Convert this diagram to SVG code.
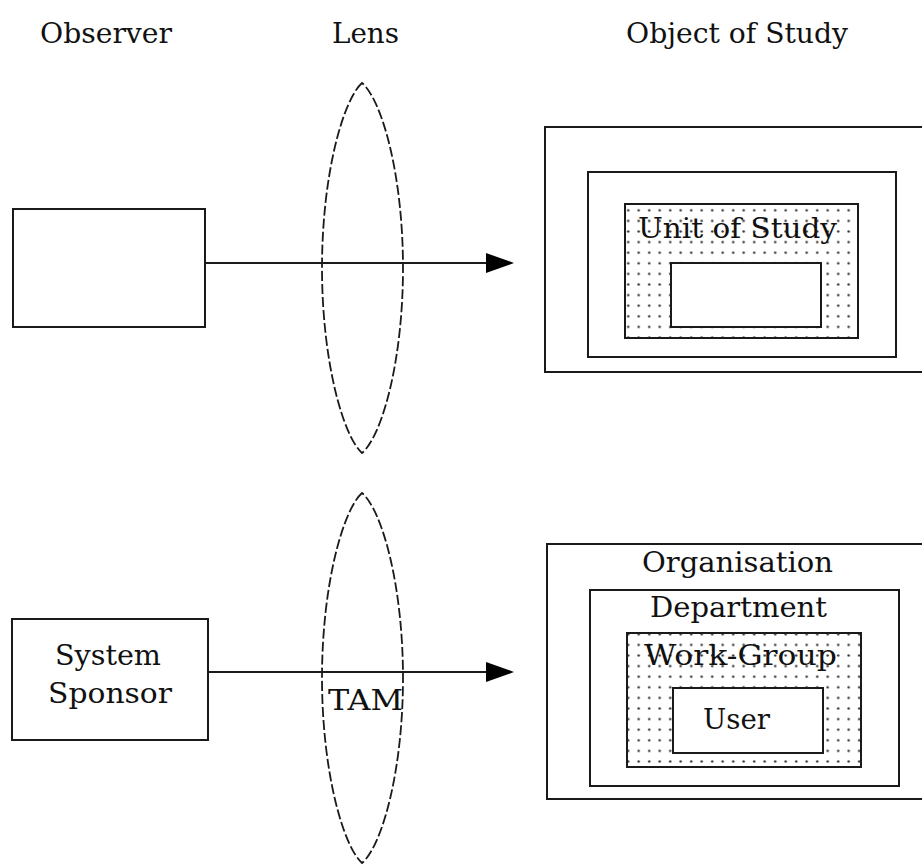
<svg xmlns="http://www.w3.org/2000/svg" width="922" height="865" viewBox="0 0 922 865">
<style>
.box{fill:#fff;stroke:#1a1a1a;stroke-width:2}
.dotbox{fill:url(#dots);stroke:#1a1a1a;stroke-width:2}
.lens{fill:none;stroke:#1a1a1a;stroke-width:1.8;stroke-dasharray:10,3}
.conn{stroke:#1a1a1a;stroke-width:2;fill:none}
.head{fill:#000}
.t{font-family:"DejaVu Serif","Liberation Serif",serif;font-size:27px;fill:#111}
.h{font-family:"DejaVu Serif","Liberation Serif",serif;font-size:28px;fill:#111}
</style>
<defs>
<pattern id="dots" patternUnits="userSpaceOnUse" x="623" y="205" width="10.5" height="10.6">
<rect width="10.5" height="10.6" fill="#fff"/>
<circle cx="5.2" cy="5.3" r="1.2" fill="#333"/>
</pattern>
</defs>

<g id="headers">
<text class="h" x="40" y="43" textLength="132" lengthAdjust="spacingAndGlyphs">Observer</text>
<text class="h" x="332" y="43" textLength="67" lengthAdjust="spacingAndGlyphs">Lens</text>
<text class="h" x="626" y="43" textLength="222" lengthAdjust="spacingAndGlyphs">Object of Study</text>
</g>

<g id="observer-top">
<rect class="box" x="13" y="209" width="192" height="118"/>
</g>

<g id="lens-top">
<path class="lens" d="M362,83 C343,100 322,175 322,268 C322,361 343,436 362,453 C382,436 403,361 403,268 C403,175 382,100 362,83 Z"/>
</g>

<g id="object-top">
<rect class="box" x="545" y="127" width="385" height="245"/>
<rect class="box" x="588" y="172" width="308" height="185"/>
<rect class="dotbox" x="625" y="204" width="233" height="134"/>
<text class="t" x="638" y="238" textLength="199" lengthAdjust="spacingAndGlyphs">Unit of Study</text>
<rect class="box" x="671" y="263" width="150" height="64"/>
</g>

<g id="system-sponsor">
<rect class="box" x="12" y="619" width="196" height="121"/>
<text class="t" x="55" y="665" textLength="106" lengthAdjust="spacingAndGlyphs">System</text>
<text class="t" x="48" y="703" textLength="124" lengthAdjust="spacingAndGlyphs">Sponsor</text>
</g>

<g id="lens-tam">
<path class="lens" d="M362,493 C343,510 322,585 322,678 C322,771 343,846 362,863 C382,846 403,771 403,678 C403,585 382,510 362,493 Z"/>
<text class="t" x="328" y="710" textLength="75" lengthAdjust="spacingAndGlyphs">TAM</text>
</g>

<g id="organisation">
<rect class="box" x="547" y="544" width="385" height="255"/>
<text class="t" x="642" y="572" textLength="191" lengthAdjust="spacingAndGlyphs">Organisation</text>
</g>
<g id="department">
<rect class="box" x="590" y="590" width="309" height="196"/>
<text class="t" x="650" y="617" textLength="177" lengthAdjust="spacingAndGlyphs">Department</text>
</g>
<g id="work-group">
<rect class="dotbox" x="627" y="633" width="234" height="134"/>
<text class="t" x="644" y="665" textLength="193" lengthAdjust="spacingAndGlyphs">Work-Group</text>
</g>
<g id="user">
<rect class="box" x="673" y="688" width="150" height="65"/>
<text class="t" x="703" y="729" textLength="67" lengthAdjust="spacingAndGlyphs">User</text>
</g>

<g id="connectors">
<line class="conn" x1="205" y1="263" x2="490" y2="263"/>
<polygon class="head" points="486,253 514,263 486,273"/>
<line class="conn" x1="208" y1="672" x2="490" y2="672"/>
<polygon class="head" points="486,662 514,672 486,682"/>
</g>
</svg>
